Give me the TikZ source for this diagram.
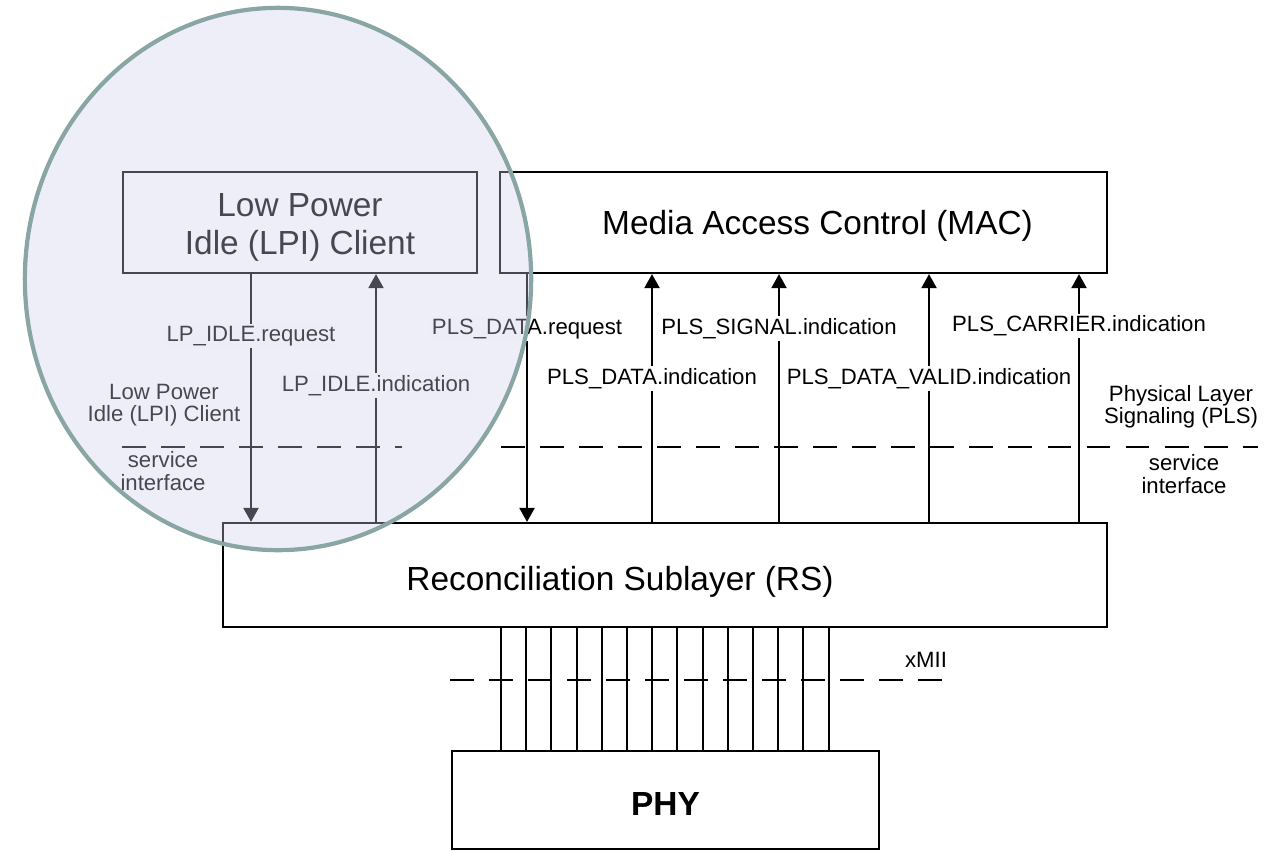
\documentclass[tikz,border=0pt]{standalone}
\usepackage{fontspec}
\setmainfont{Liberation Sans}
\usetikzlibrary{arrows.meta}
\definecolor{lpifill}{RGB}{206,206,235}
\definecolor{lpiring}{RGB}{138,166,164}

\begin{document}
\begin{tikzpicture}[x=0.01cm, y=-0.01cm, >={Triangle[length=1.4mm, width=1.5mm]},
    layer/.style={draw, line width=0.6pt, inner sep=0pt, align=center, font=\fontsize{9.5}{10.8}\selectfont},
    sig/.style={line width=0.6pt},
    lbl/.style={fill=white, inner sep=0.6pt, font=\fontsize{6.3}{6.3}\selectfont},
    note/.style={align=center, inner sep=0pt, font=\fontsize{6.3}{6.3}\selectfont},
    svc/.style={line width=0.6pt, dash pattern=on 6.8pt off 4.3pt}]

    \useasboundingbox (0,0) rectangle (1271,851);

    % Layers
    \node[layer, minimum width=3.54cm, minimum height=1.01cm, text height=0.70cm, text depth=0.07cm] (lpi) at (300,222.5) {Low Power\\Idle (LPI) Client};
    \node[layer, minimum width=6.07cm, minimum height=1.01cm, text height=0.30cm, text depth=0.07cm] (mac) at (803.5,222.5) {\kern0.28cm Media Access Control (MAC)};
    \node[layer, minimum width=8.84cm, minimum height=1.04cm, text height=0.37cm, text depth=0.07cm] (rs) at (665,575) {Reconciliation Sublayer (RS)\kern0.9cm};
    \node[layer, minimum width=4.27cm, minimum height=0.98cm, text height=0.30cm, text depth=0cm, font=\fontsize{9.5}{10.8}\selectfont\bfseries] (phy) at (665.5,800) {PHY};

    % Service primitives
    \foreach \xx/\nm in {251/f, 376/g, 527/a, 652/b, 779/c, 929/d, 1079/e}
        \coordinate (\nm) at (\xx,0);
    \draw[sig, ->] (lpi.south -| f) -- (rs.north -| f) node[lbl, pos=0.25] (lpreq) {LP\_IDLE.request};
    \draw[sig, ->] (rs.north -| g) -- (lpi.south -| g) node[lbl, pos=0.55] (lpind) {LP\_IDLE.indication};
    \draw[sig, ->] (mac.south -| a) -- (rs.north -| a) node[lbl, pos=0.22] (pdreq) {PLS\_DATA.request};
    \draw[sig, ->] (rs.north -| b) -- (mac.south -| b) node[lbl, pos=0.58] (pdind) {PLS\_DATA.indication};
    \draw[sig, ->] (rs.north -| c) -- (mac.south -| c) node[lbl, pos=0.78] (psind) {PLS\_SIGNAL.indication};
    \draw[sig, ->] (rs.north -| d) -- (mac.south -| d) node[lbl, pos=0.58] (pvind) {PLS\_DATA\_VALID.indication};
    \draw[sig, ->] (rs.north -| e) -- (mac.south -| e) node[lbl, pos=0.79] (pcind) {PLS\_CARRIER.indication};

    % xMII wires
    \foreach \i in {0,...,13} {
        \coordinate (w\i) at (501+25.2*\i,0);
        \draw[sig] (rs.south -| w\i) -- (phy.north -| w\i);
    }

    % Service interfaces
    \draw[svc] (122,447) -- (402,447);
    \draw[svc] (501,447) -- (1258,447);
    \draw[svc] (450,680) -- (956,680);

    \node[note] (lpinote) at (164,405) {Low Power\\Idle (LPI) Client};
    \node[note] (svcl) at (163,471) {service\\interface};
    \node[note] (plsnote) at (1181,407) {Physical Layer\\Signaling (PLS)};
    \node[note] (svcr) at (1184,474) {service\\interface};
    \node[note] (xmii) at (926,660) {xMII};

    % LPI highlight
    \fill[lpifill, fill opacity=0.35] (278,279) ellipse [x radius=2.53cm, y radius=2.71cm];
    \draw[lpiring, line width=1.2pt] (278,279) ellipse [x radius=2.53cm, y radius=2.71cm];
\end{tikzpicture}
\end{document}
